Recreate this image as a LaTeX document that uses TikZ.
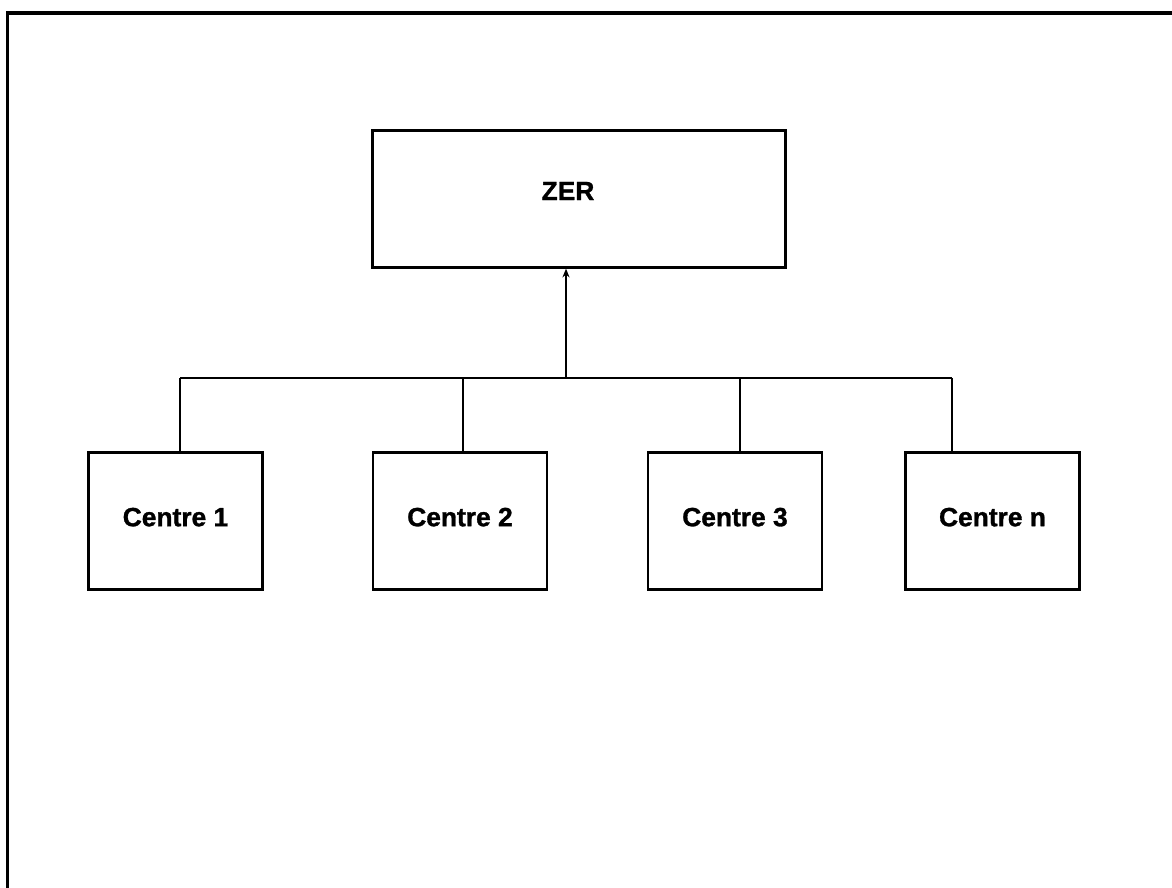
\documentclass[tikz,border=0pt]{standalone}
\usepackage{fontspec}
\setmainfont{Liberation Sans}[BoldFeatures={FakeBold=1.2}]
\usetikzlibrary{arrows.meta}

\begin{document}
\begin{tikzpicture}[
    box/.style={draw, line width=1.3pt, minimum width=3.48cm, minimum height=2.74cm,
                text depth=0.16cm, font=\fontsize{15}{18}\selectfont\bfseries},
    bar/.style={line width=1.3pt}
  ]
            \useasboundingbox (0,0) rectangle (23.44,-17.76);
            \draw[line width=1.8pt] (0.15,-17.76) -- (0.15,-0.26) -- (23.44,-0.26);
            \node[box, minimum width=8.26cm,
                  label={[font=\fontsize{15}{18}\selectfont\bfseries, xshift=-0.22cm, yshift=0.16cm]center:ZER}]
                  at (11.58,-3.98) (zer) {};
            \node[box] at (3.51,-10.42) (c1) {Centre 1};
            \node[box] at (9.2,-10.42) (c2) {Centre 2};
            \node[box] at (14.7,-10.42) (c3) {Centre 3};
            \node[box] at (19.85,-10.42) (cn) {Centre n};
            % bus between the centres
            \coordinate (b1) at (3.6,-7.56);
            \coordinate (b2) at (9.26,-7.56);
            \coordinate (b3) at (14.8,-7.56);
            \coordinate (bn) at (19.04,-7.56);
            \coordinate (bz) at (11.32,-7.56);
            \draw[bar] (b1) -- (bn);
            \draw[bar] (b1) -- (b1 |- c1.north);
            \draw[bar] (b2) -- (b2 |- c2.north);
            \draw[bar] (b3) -- (b3 |- c3.north);
            \draw[bar] (bn) -- (bn |- cn.north);
            \draw[bar,-{Stealth[length=5pt,width=4pt]}] (bz) -- (bz |- zer.south);
        \end{tikzpicture}
\end{document}
